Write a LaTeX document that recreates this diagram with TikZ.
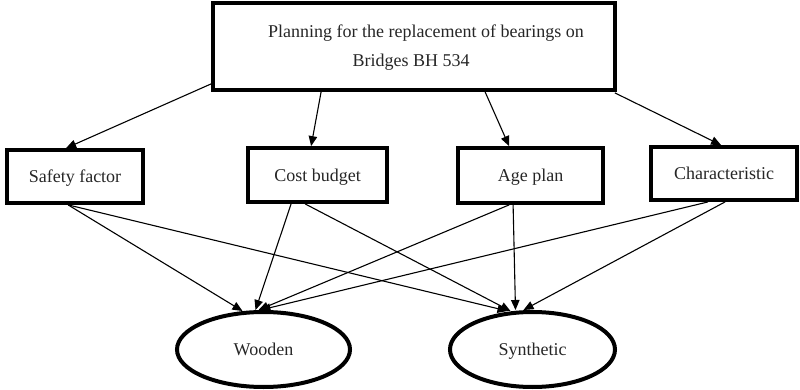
\documentclass[tikz,border=0pt]{standalone}
\usepackage{fontspec}
\setmainfont{Liberation Serif}
\usetikzlibrary{arrows.meta,calc,shapes.geometric}
\begin{document}
\begin{tikzpicture}[x=1pt,y=-1pt,
  every node/.style={font=\fontsize{18}{30}\selectfont, text=black!85, inner sep=0pt},
  box/.style={draw, line width=3.8pt, rectangle, text depth=0pt},
  oval/.style={draw, line width=4pt, ellipse, text depth=0pt},
  arr/.style={line width=1.1pt, -{Triangle[length=10pt,width=8.5pt]}}]
\useasboundingbox (0,0) rectangle (800,390);
\node[draw, line width=3.8pt, rectangle, minimum width=402pt, minimum height=87pt] (top) at (414,46.5) {};
\node at (426,33) (t1) {Planning for the replacement of bearings on};
\node at (411,62) (t2) {Bridges BH 534};
\node[box, minimum width=136pt, minimum height=53pt] (safe) at (75,176.5) {Safety factor};
\node[box, minimum width=139pt, minimum height=54pt] (cost) at (317.5,175) {Cost budget};
\node[box, minimum width=145pt, minimum height=55pt] (age) at (530.5,175.5) {Age plan};
\node[box, minimum width=146pt, minimum height=53pt] (char) at (724,173.5) {Characteristic};
\node[oval, minimum width=173pt, minimum height=75pt] (wood) at (263.5,349.5) {Wooden};
\node[oval, minimum width=165pt, minimum height=75pt] (syn) at (532.5,349.5) {Synthetic};
% top arrows
\draw[arr] ($(top.south west)+(0,-8)$) -- ($(safe.north west)+(61,0)$);
\draw[arr] ($(top.south west)+(110,0)$) -- ($(cost.north west)+(65,0)$);
\draw[arr] ($(top.south west)+(274,0)$) -- ($(age.north west)+(53,0)$);
\draw[arr] ($(top.south east)+(-2,1)$) -- ($(char.north west)+(72,0)$);
% to wooden
\draw[arr] ($(safe.south west)+(63,0)$) -- ($(wood.north)+(-21,1)$);
\draw[arr] ($(cost.south west)+(45,0)$) -- ($(wood.north)+(-8,0)$);
\draw[arr] ($(age.south west)+(53,0)$) -- ($(wood.north)+(-5,0)$);
\draw[arr] ($(char.south west)+(59,0)$) -- ($(wood.north)+(-3,0)$);
% to synthetic
\draw[arr] ($(safe.south west)+(63,0)$) -- ($(syn.north)+(-25,1)$);
\draw[arr] ($(cost.south west)+(59,0)$) -- ($(syn.north)+(-22,1)$);
\draw[arr] ($(age.south west)+(57,0)$) -- ($(syn.north)+(-17,0)$);
\draw[arr] ($(char.south west)+(76,0)$) -- ($(syn.north)+(-9,0)$);
\end{tikzpicture}
\end{document}
